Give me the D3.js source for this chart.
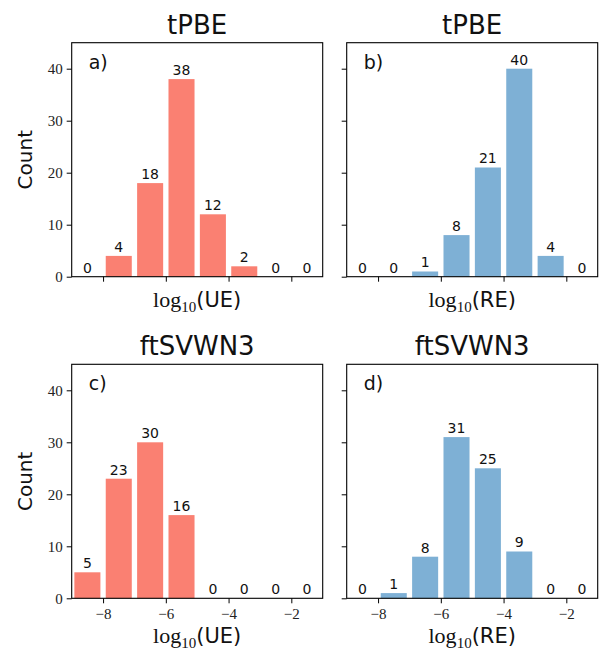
<!DOCTYPE html>
<html lang="en">
<head>
<meta charset="UTF-8">
<title>Error histograms</title>
<script src="https://cdnjs.cloudflare.com/ajax/libs/d3/7.8.5/d3.min.js"></script>
<style>
  body { margin: 0; background: #fff; }
  svg { display: block; }
</style>
</head>
<body>
<div id="chart"></div>
<script>
// bins are log10 ranges [-9,-8], [-8,-7], ... [-2,-1]
const binStarts = [-9, -8, -7, -6, -5, -4, -3, -2];
const tpbeUE = [0, 4, 18, 38, 12, 2, 0, 0];
const tpbeRE = [0, 0, 1, 8, 21, 40, 4, 0];
const svwnUE = [5, 23, 30, 16, 0, 0, 0, 0];
const svwnRE = [0, 1, 8, 31, 25, 9, 0, 0];
const xTicks = [-8, -6, -4, -2];
const yTicks = [0, 10, 20, 30, 40];

const panels = [
  {title: "tPBE",    tag: "a)", counts: tpbeUE, kind: "UE", color: "#fa8072", col: 0, row: 0},
  {title: "tPBE",    tag: "b)", counts: tpbeRE, kind: "RE", color: "#7eb0d5", col: 1, row: 0},
  {title: "ftSVWN3", tag: "c)", counts: svwnUE, kind: "UE", color: "#fa8072", col: 0, row: 1},
  {title: "ftSVWN3", tag: "d)", counts: svwnRE, kind: "RE", color: "#7eb0d5", col: 1, row: 1}
];

const W = 600, H = 658;
const colX = [71.7, 346.7];
const rowY = [42.7, 364.3];
const pw = 251, ph = 234;

const svg = d3.select("#chart").append("svg")
  .attr("width", W).attr("height", H);

const x = d3.scaleLinear().domain([-9, -1]).range([0, pw]);
const y = d3.scaleLinear().domain([0, 45]).range([ph, 0]);

const serif = "'Liberation Serif', 'DejaVu Serif', serif";
const sans = "'DejaVu Sans', sans-serif";

panels.forEach(p => {
  const g = svg.append("g")
    .attr("transform", `translate(${colX[p.col]},${rowY[p.row]})`);
  const bins = binStarts.map((b, i) => ({b, v: p.counts[i]}));

  // bars, 83% of the bin width
  const rw = 0.83;
  g.selectAll("rect.bar")
    .data(bins)
    .join("rect")
    .attr("class", "bar")
    .attr("x", d => x(d.b + (1 - rw) / 2))
    .attr("width", d => x(d.b + (1 + rw) / 2) - x(d.b + (1 - rw) / 2))
    .attr("y", d => y(d.v))
    .attr("height", d => y(0) - y(d.v))
    .attr("fill", p.color);

  // counts above bars
  g.selectAll("text.val")
    .data(bins)
    .join("text")
    .attr("class", "val")
    .attr("x", d => x(d.b + 0.5))
    .attr("y", d => y(d.v) - 4)
    .attr("text-anchor", "middle")
    .style("font-family", sans)
    .style("font-size", "14px")
    .attr("fill", "#111")
    .text(d => d.v);

  // y axis
  const yAxis = d3.axisLeft(y).tickValues(yTicks).tickSize(5).tickPadding(4)
    .tickFormat(p.col === 0 ? d3.format("d") : "");
  const ya = g.append("g").call(yAxis);
  ya.select(".domain").remove();
  ya.selectAll("line").attr("stroke", "#000");
  ya.selectAll("text").style("font-family", serif).style("font-size", "15px").attr("fill", "#222");

  // x axis
  const xAxis = d3.axisBottom(x).tickValues(xTicks).tickSize(5).tickPadding(5)
    .tickFormat(p.row === 1 ? (d => "\u2212" + Math.abs(d)) : "");
  const xa = g.append("g").attr("transform", `translate(0,${ph})`).call(xAxis);
  xa.select(".domain").remove();
  xa.selectAll("line").attr("stroke", "#000");
  xa.selectAll("text").style("font-family", serif).style("font-size", "15px").attr("fill", "#222");

  // frame
  g.append("rect")
    .attr("x", 0).attr("y", 0).attr("width", pw).attr("height", ph)
    .attr("fill", "none").attr("stroke", "#000").attr("stroke-width", 1.1);

  // panel tag
  g.append("text")
    .attr("x", 17).attr("y", 26)
    .style("font-family", sans).style("font-size", "19px")
    .attr("fill", "#111")
    .text(p.tag);

  // title
  g.append("text")
    .attr("x", pw / 2).attr("y", -9)
    .attr("text-anchor", "middle")
    .style("font-family", sans).style("font-size", "26px")
    .attr("fill", "#111")
    .text(p.title);

  // x label: log_10(UE)
  const xl = g.append("text")
    .attr("x", pw / 2).attr("y", ph + (p.row === 1 ? 45 : 30))
    .attr("text-anchor", "middle")
    .attr("fill", "#111");
  xl.append("tspan").style("font-family", serif).style("font-size", "22px").text("log");
  xl.append("tspan").style("font-family", serif).style("font-size", "15px").attr("dy", 5).text("10");
  xl.append("tspan").style("font-family", sans).style("font-size", "21px").attr("dy", -5).text(`(${p.kind})`);

  // y label
  if (p.col === 0) {
    g.append("text")
      .attr("transform", `translate(-40,${ph / 2}) rotate(-90)`)
      .attr("text-anchor", "middle")
      .style("font-family", sans).style("font-size", "20px")
      .attr("fill", "#111")
      .text("Count");
  }
});
</script>
</body>
</html>
